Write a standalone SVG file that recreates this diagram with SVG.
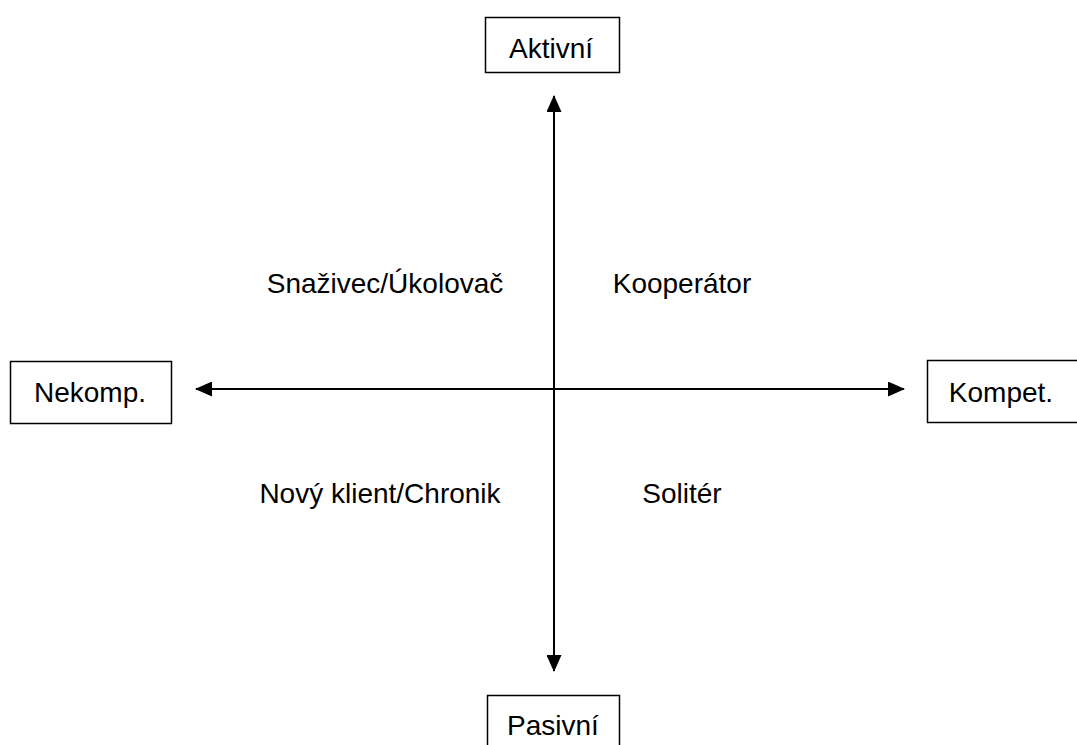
<svg xmlns="http://www.w3.org/2000/svg" width="1077" height="745" viewBox="0 0 1077 745">
<defs>
<style>
.box{fill:#fff;stroke:#000;stroke-width:1.5}
.t{font-family:"Liberation Sans",Arial,sans-serif;font-size:28px;fill:#000;text-anchor:middle}
.ax{stroke:#000;stroke-width:2;fill:none}
</style>
<marker id="ah" viewBox="0 0 17 15" refX="16" refY="7.5" markerWidth="17" markerHeight="15" markerUnits="userSpaceOnUse" orient="auto-start-reverse">
<path d="M0,0 L17,7.5 L0,15 Z" fill="#000"/>
</marker>
</defs>
<rect width="1077" height="745" fill="#fff"/>
<g id="connectors">
<line class="ax" x1="554" y1="96" x2="554" y2="671" marker-start="url(#ah)" marker-end="url(#ah)"/>
<line class="ax" x1="196" y1="389" x2="904" y2="389" marker-start="url(#ah)" marker-end="url(#ah)"/>
</g>
<g id="aktivni">
<rect class="box" x="485.5" y="17.5" width="134" height="55"/>
<text class="t" x="551" y="58">Aktivní</text>
</g>
<g id="pasivni">
<rect class="box" x="487.5" y="695.5" width="132" height="60"/>
<text class="t" x="553" y="735">Pasivní</text>
</g>
<g id="nekomp">
<rect class="box" x="10.5" y="361.5" width="161" height="62"/>
<text class="t" x="90" y="402">Nekomp.</text>
</g>
<g id="kompet">
<rect class="box" x="927.5" y="360.5" width="160" height="62"/>
<text class="t" x="1001" y="402">Kompet.</text>
</g>
<g id="labels">
<text class="t" x="385" y="293">Snaživec/Úkolovač</text>
<text class="t" x="682" y="293">Kooperátor</text>
<text class="t" x="380" y="503">Nový klient/Chronik</text>
<text class="t" x="682" y="503">Solitér</text>
</g>
</svg>
